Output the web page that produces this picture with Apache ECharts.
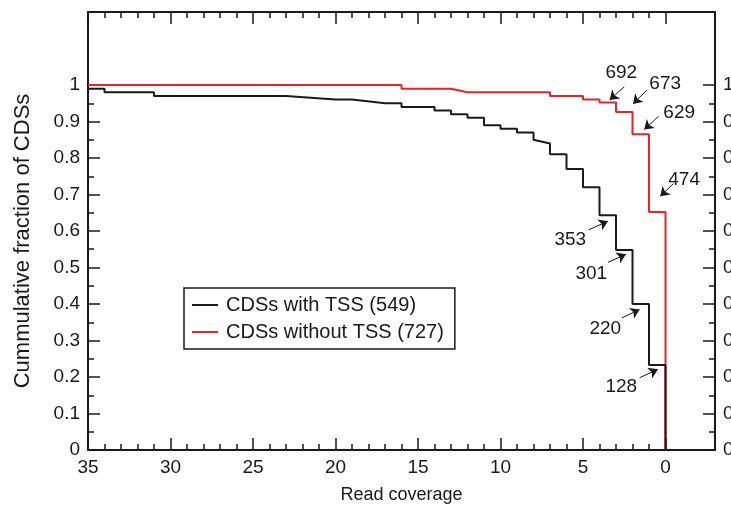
<!DOCTYPE html>
<html lang="en">
<head>
  <meta charset="utf-8">
  <style>
    html, body { margin: 0; padding: 0; background: #fff; }
    #container { width: 731px; height: 506px; }
  </style>
</head>
<body>
  <div id="container"></div>
  <script src="https://cdn.jsdelivr.net/npm/echarts@6/dist/echarts.min.js"></script>
  <script>
    // read coverage vs cumulative fraction, steps drawn as point pairs
    const withTss = [
      [35, 0.99], [34, 0.99], [34, 0.98], [31, 0.98], [31, 0.97], [23, 0.97],
      [20, 0.96], [19, 0.96], [17, 0.95], [16, 0.95], [16, 0.94], [14, 0.94],
      [14, 0.93], [13, 0.93], [13, 0.92], [12, 0.92], [12, 0.91], [11, 0.91],
      [11, 0.89], [10, 0.89], [10, 0.88], [9, 0.88], [9, 0.87], [8, 0.87],
      [8, 0.85], [7, 0.84], [7, 0.81], [6, 0.81], [6, 0.77], [5, 0.77],
      [5, 0.72], [4, 0.72], [4, 0.643], [3, 0.643], [3, 0.548], [2, 0.548],
      [2, 0.40], [1, 0.40], [1, 0.233], [0, 0.233], [0, 0]
    ];
    const withoutTss = [
      [35, 1], [16, 1], [16, 0.99], [13, 0.99], [12, 0.98], [7, 0.98],
      [7, 0.97], [5, 0.97], [5, 0.96], [4, 0.96], [4, 0.952], [3, 0.952],
      [3, 0.926], [2, 0.926], [2, 0.865], [1, 0.865], [1, 0.652], [0, 0.652], [0, 0]
    ];
    const seriesNames = ['CDSs with TSS (549)', 'CDSs without TSS (727)'];

    // annotation counts, label centres and arrows (data units)
    const noteText = ['692', '673', '629', '474', '353', '301', '220', '128'];
    const notePos = [
      [2.68, 1.034], [0.02, 1.004], [-0.83, 0.924], [-1.13, 0.739],
      [5.77, 0.575], [4.5, 0.483], [3.65, 0.333], [2.68, 0.172]
    ];
    const noteArrows = [
      [[2.5, 0.995], [3.39, 0.959]],
      [[1.13, 0.986], [1.97, 0.948]],
      [[0.42, 0.914], [1.29, 0.878]],
      [[-0.48, 0.730], [0.32, 0.695]],
      [[4.66, 0.603], [3.49, 0.627]],
      [[3.49, 0.514], [2.4, 0.536]],
      [[2.64, 0.362], [1.57, 0.385]],
      [[1.57, 0.198], [0.46, 0.221]]
    ];

    const xMajor = [0, 5, 10, 15, 20, 25, 30, 35];
    const xMinor = Array.from({ length: 36 }, (_, i) => i);
    const yMajor = [0, 0.1, 0.2, 0.3, 0.4, 0.5, 0.6, 0.7, 0.8, 0.9, 1];
    const yMinor = [0, 0.05, 0.1, 0.15, 0.2, 0.25, 0.3, 0.35, 0.4, 0.45, 0.5,
                    0.55, 0.6, 0.65, 0.7, 0.75, 0.8, 0.85, 0.9, 0.95, 1];

    const ink = '#1a1a1a';
    const red = '#e8232a';
    const font = 'Liberation Sans, Arial, sans-serif';

    function xAx(pos, ticks, len, labels) {
      return {
        type: 'value', position: pos, min: -3, max: 35, inverse: true,
        axisLine: { show: labels !== undefined, onZero: false, lineStyle: { color: ink, width: 2 } },
        axisTick: { inside: true, length: len, customValues: ticks, lineStyle: { color: ink, width: 1.5 } },
        axisLabel: labels ? {
          show: true, customValues: xMajor, margin: 8, color: ink,
          fontSize: 19, fontFamily: font
        } : { show: false },
        splitLine: { show: false }
      };
    }
    function yAx(pos, ticks, len, labels, name) {
      return {
        type: 'value', position: pos, min: 0, max: 1.2,
        name: name || '', nameLocation: 'middle', nameGap: 54,
        nameTextStyle: { fontSize: 22, fontFamily: font, color: ink, padding: [0, 20, 0, 0] },
        axisLine: { show: labels !== undefined, onZero: false, lineStyle: { color: ink, width: 2 } },
        axisTick: { inside: true, length: len, customValues: ticks, lineStyle: { color: ink, width: 1.5 } },
        axisLabel: labels ? {
          show: true, customValues: yMajor, margin: 8, color: ink,
          fontSize: 19, fontFamily: font,
          formatter: v => String(+v.toFixed(2))
        } : { show: false },
        splitLine: { show: false }
      };
    }

    const chart = echarts.init(document.getElementById('container'));
    const xBottom = xAx('bottom', xMajor, 12, true);
    xBottom.name = 'Read coverage';
    xBottom.nameLocation = 'middle';
    xBottom.nameGap = 36;
    xBottom.nameTextStyle = { fontSize: 18, fontFamily: font, color: ink };

    chart.setOption({
      animation: false,
      grid: { left: 88, right: 16, top: 12, bottom: 56, outerBoundsMode: 'none', containLabel: false },
      legend: {
        data: seriesNames,
        orient: 'vertical',
        left: 184, top: 288,
        padding: [7, 11, 7, 8],
        itemGap: 7,
        itemWidth: 26, itemHeight: 2,
        icon: 'rect',
        borderColor: ink, borderWidth: 1.5,
        textStyle: { fontSize: 20, fontFamily: font, color: ink, padding: [0, 0, 0, 3] }
      },
      xAxis: [
        xBottom,
        xAx('bottom', xMinor, 6),
        xAx('top', xMajor, 12, false),
        xAx('top', xMinor, 6)
      ],
      yAxis: [
        yAx('left', yMajor, 12, true, 'Cummulative fraction of CDSs'),
        yAx('left', yMinor, 6),
        yAx('right', yMajor, 12, true),
        yAx('right', yMinor, 6)
      ],
      series: [
        {
          name: seriesNames[0], type: 'line', data: withTss, z: 4,
          xAxisIndex: 0, yAxisIndex: 0,
          symbol: 'none', color: ink, lineStyle: { color: ink, width: 2 }
        },
        {
          name: seriesNames[1], type: 'line', data: withoutTss, z: 3,
          xAxisIndex: 0, yAxisIndex: 0,
          symbol: 'none', color: red, lineStyle: { color: red, width: 2 }
        },
        {
          type: 'lines', coordinateSystem: 'cartesian2d',
          xAxisIndex: 0, yAxisIndex: 0, z: 5,
          symbol: ['none', 'arrow'], symbolSize: 9,
          lineStyle: { color: ink, width: 1, opacity: 1, curveness: 0 },
          data: noteArrows.map(c => ({ coords: c }))
        },
        {
          type: 'scatter', xAxisIndex: 0, yAxisIndex: 0, z: 5,
          symbolSize: 0, itemStyle: { color: ink },
          label: {
            show: true, position: 'inside', color: ink, opacity: 1,
            fontSize: 19, fontFamily: font,
            formatter: p => p.data[2]
          },
          data: notePos.map((p, i) => [p[0], p[1], noteText[i]])
        }
      ]
    });
  </script>
</body>
</html>
